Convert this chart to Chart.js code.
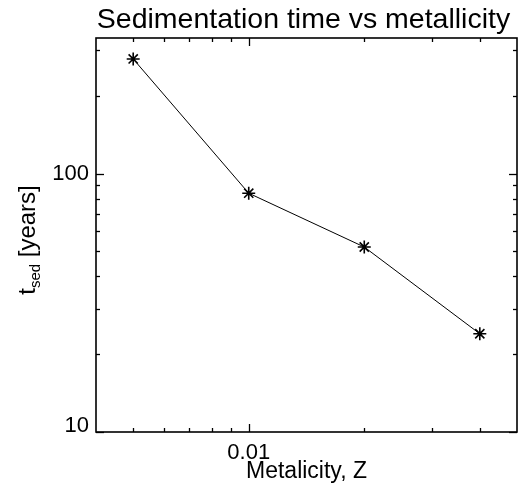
<!DOCTYPE html>
<html>
<head>
<meta charset="utf-8">
<script src="https://cdn.jsdelivr.net/npm/chart.js@4/dist/chart.umd.min.js"></script>
<style>
  html, body { margin: 0; padding: 0; background: #fff; }
  #wrap { width: 528px; height: 496px; }
</style>
</head>
<body>
<div id="wrap"><canvas id="c" width="528" height="496"></canvas></div>
<script>
// Sedimentation time against metallicity (log-log)
const metallicity = [0.005, 0.01, 0.02, 0.04];
const tSedYears = [278, 84, 52, 24];

// Axis ranges
const xRange = [0.004, 0.05];
const yRange = [10, 335];

// Labelled (major) and unlabelled (minor) tick values
const xMajorTicks = [0.01];
const xMinorTicks = [0.005, 0.006, 0.007, 0.008, 0.009, 0.02, 0.03, 0.04];
const yMajorTicks = [10, 100];
const yMinorTicks = [20, 30, 40, 50, 60, 70, 80, 90, 200, 300];
const xTickLabels = ['0.01'];
const yTickLabels = ['10', '100'];

const FONT = '"Liberation Sans", Arial, Helvetica, sans-serif';

// Box frame with inward ticks on all four sides, plus titles
const framePlugin = {
  id: 'frame',
  afterDraw(chart) {
    const { ctx, chartArea: a, scales: { x, y } } = chart;
    const MAJ = 8, MIN = 4;
    ctx.save();
    ctx.strokeStyle = '#000';
    ctx.lineWidth = 1.6;
    ctx.strokeRect(a.left, a.top, a.right - a.left, a.bottom - a.top);
    ctx.lineWidth = 1.3;
    const seg = (x1, y1, x2, y2) => {
      ctx.beginPath(); ctx.moveTo(x1, y1); ctx.lineTo(x2, y2); ctx.stroke();
    };
    const xt = (vals, len) => vals.forEach(v => {
      const px = Math.round(x.getPixelForValue(v)) + 0.5;
      seg(px, a.bottom, px, a.bottom - len);
      seg(px, a.top, px, a.top + len);
    });
    const yt = (vals, len) => vals.forEach(v => {
      const py = Math.round(y.getPixelForValue(v)) + 0.5;
      seg(a.left, py, a.left + len, py);
      seg(a.right, py, a.right - len, py);
    });
    xt(xMajorTicks, MAJ); xt(xMinorTicks, MIN);
    yt(yMajorTicks, MAJ); yt(yMinorTicks, MIN);

    const cx = (a.left + a.right) / 2;
    ctx.fillStyle = '#000';

    // chart title
    ctx.font = '28.5px ' + FONT;
    ctx.textAlign = 'center';
    ctx.textBaseline = 'alphabetic';
    ctx.fillText('Sedimentation time vs metallicity', cx - 3, 28);

    // x axis title
    ctx.font = '23px ' + FONT;
    ctx.fillText('Metalicity, Z', cx, 478);

    // y axis title with subscript
    const big = '24px ' + FONT, small = '15px ' + FONT;
    ctx.font = big; const w1 = ctx.measureText('t').width;
    ctx.font = small; const w2 = ctx.measureText('sed').width;
    ctx.font = big; const w3 = ctx.measureText(' [years]').width;
    const total = w1 + w2 + w3;
    const cy = (a.top + a.bottom) / 2 + 5;
    ctx.translate(35, cy);
    ctx.rotate(-Math.PI / 2);
    ctx.textAlign = 'left';
    let p = -total / 2;
    ctx.font = big; ctx.fillText('t', p, 0); p += w1;
    ctx.font = small; ctx.fillText('sed', p, 5); p += w2;
    ctx.font = big; ctx.fillText(' [years]', p, 0);
    ctx.restore();
  }
};

new Chart(document.getElementById('c'), {
  type: 'line',
  data: {
    datasets: [{
      data: metallicity.map((z, i) => ({ x: z, y: tSedYears[i] })),
      borderColor: '#000',
      borderWidth: 1,
      pointStyle: 'star',
      pointRadius: 6.5,
      pointBorderWidth: 1.6,
      pointBorderColor: '#000',
      pointBackgroundColor: '#000',
      tension: 0,
      fill: false
    }]
  },
  options: {
    responsive: false,
    animation: false,
    devicePixelRatio: 1,
    layout: { padding: { top: 38, right: 11, left: 0, bottom: 0 } },
    plugins: { legend: { display: false }, title: { display: false }, tooltip: { enabled: false } },
    scales: {
      x: {
        type: 'logarithmic',
        min: xRange[0], max: xRange[1],
        grid: { display: false, drawTicks: false },
        border: { display: false },
        afterBuildTicks: s => { s.ticks = xMajorTicks.map(v => ({ value: v })); },
        afterFit: s => { s.height = 64; },
        ticks: {
          color: '#000', padding: 8, maxRotation: 0, autoSkip: false,
          font: { family: FONT, size: 22 },
          callback: (v, i) => xTickLabels[i]
        }
      },
      y: {
        type: 'logarithmic',
        min: yRange[0], max: yRange[1],
        grid: { display: false, drawTicks: false },
        border: { display: false },
        afterBuildTicks: s => { s.ticks = yMajorTicks.map(v => ({ value: v })); },
        afterFit: s => { s.width = 96; },
        ticks: {
          color: '#000', padding: 7, autoSkip: false,
          // the bottom label sits a little above its tick, clear of the x axis
          font: c => ({ family: FONT, size: 22, lineHeight: c.index === 0 ? '12px' : 1.2 }),
          callback: (v, i) => (i === 0 ? [yTickLabels[i], ''] : yTickLabels[i])
        }
      }
    }
  },
  plugins: [framePlugin]
});
</script>
</body>
</html>
